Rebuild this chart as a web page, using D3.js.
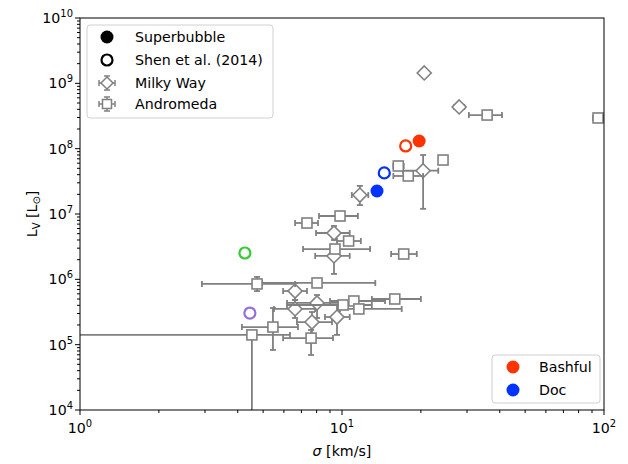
<!DOCTYPE html>
<html><head><meta charset="utf-8">
<script src="https://cdn.jsdelivr.net/npm/d3@7"></script>
<style>body{margin:0;background:#fff}svg{display:block;font-family:"DejaVu Sans",sans-serif}</style>
</head><body><svg id="c" width="628" height="464"></svg>
<script>
// ---- data (σ in km/s, L_V in L_sun) ----
const mwSigma = [20.6, 28.0, 20.4, 11.7, 9.32, 9.32, 6.62, 6.62, 8.03, 7.68, 9.57];
const mwL     = [1.44e9, 4.35e8, 4.6e7, 1.95e7, 5.12e6, 2.28e6, 6.62e5, 3.52e5, 4.35e5, 2.22e5, 2.65e5];
const mwSigLo = [20.6, 26.8, 17.1, 10.9, 7.96, 7.9, 5.96, 5.5, 6.17, 6.73, 8.61];
const mwSigHi = [20.6, 29.3, 23.3, 12.6, 10.7, 10.7, 7.35, 7.89, 10.3, 9.16, 10.7];
const mwLLo   = [1.44e9, 3.9e8, 1.2e7, 1.37e7, 4.0e6, 1.21e6, 4.83e5, 2.56e5, 2.56e5, 1.41e5, 1.41e5];
const mwLHi   = [1.44e9, 4.9e8, 8.0e7, 2.69e7, 6.55e6, 3.13e6, 8.8e5, 4.83e5, 5.75e5, 3.16e5, 4.05e5];

const anSigma = [94.9, 35.8, 24.3, 16.4, 17.9, 9.83, 7.35, 10.6, 9.4, 17.2, 4.74, 8.03, 10.1, 11.1, 11.6, 15.9, 5.45, 4.53, 7.62];
const anL     = [2.95e8, 3.27e8, 6.7e7, 5.43e7, 3.82e7, 9.32e6, 7.28e6, 3.86e6, 2.91e6, 2.44e6, 8.5e5, 8.8e5, 4.05e5, 4.66e5, 3.52e5, 5.0e5, 1.86e5, 1.41e5, 1.26e5];
const anSigLo = [90.8, 30.5, 23.5, 15.7, 15.7, 8.17, 6.62, 9.57, 7.1, 15.4, 2.92, 4.95, 6.17, 9.0, 9.83, 13.0, 4.15, 0.5, 5.96];
const anSigHi = [99.1, 40.8, 25.2, 17.2, 20.4, 11.5, 8.1, 11.8, 12.8, 19.3, 6.62, 13.4, 13.0, 14.6, 16.9, 20.0, 6.79, 6.33, 9.24];
const anLLo   = [2.65e8, 3.1e8, 5.8e7, 4.7e7, 3.4e7, 8.0e6, 6.5e6, 3.45e6, 2.6e6, 2.2e6, 6.6e5, 7.9e5, 3.6e5, 4.15e5, 3.15e5, 4.5e5, 8.3e4, 1e3, 6.95e4];
const anLHi   = [3.3e8, 3.45e8, 7.7e7, 6.3e7, 4.25e7, 1.08e7, 8.1e6, 4.3e6, 3.25e6, 2.72e6, 1.09e6, 9.8e5, 4.5e5, 5.25e5, 3.9e5, 5.6e5, 3.64e5, 1.41e5, 1.68e5];

const sbNames  = ["Bashful", "Doc"];
const sbColors = ["#ff3300", "#0033ff"];
const sbSigma  = [19.7, 13.6];
const sbL      = [1.31e8, 2.25e7];

const shenColors = ["#ff3300", "#0033ff", "#33cc33", "#9370db"];
const shenSigma  = [17.5, 14.5, 4.26, 4.45];
const shenL      = [1.1e8, 4.25e7, 2.53e6, 3.05e5];

const xTicks = [1, 10, 100];
const yTicks = [1e4, 1e5, 1e6, 1e7, 1e8, 1e9, 1e10];

// ---- drawing ----
const svg = d3.select("#c");
const L = 80, R = 604, T = 18, B = 410;
const x = d3.scaleLog().domain([1, 100]).range([L, R]);
const y = d3.scaleLog().domain([1e4, 1e10]).range([B, T]);
const gray = "#808080";

svg.append("defs").append("clipPath").attr("id", "clip")
  .append("rect").attr("x", L).attr("y", T).attr("width", R - L).attr("height", B - T);
const plot = svg.append("g").attr("clip-path", "url(#clip)");

function minor(domain) {
  const out = [];
  for (let e = Math.log10(domain[0]); e < Math.log10(domain[1]); e++)
    for (let m = 2; m <= 9; m++) out.push(m * Math.pow(10, e));
  return out;
}

// axes ticks
const xMinor = minor([1, 100]), yMinor = minor([1e4, 1e10]);
const ax = svg.append("g").attr("stroke", "#000").attr("stroke-width", 1);
ax.selectAll(".xM").data(xTicks).join("line").attr("x1", d => x(d)).attr("x2", d => x(d)).attr("y1", B).attr("y2", B + 5);
ax.selectAll(".xm").data(xMinor).join("line").attr("x1", d => x(d)).attr("x2", d => x(d)).attr("y1", B).attr("y2", B + 3);
ax.selectAll(".yM").data(yTicks).join("line").attr("y1", d => y(d)).attr("y2", d => y(d)).attr("x1", L).attr("x2", L - 5);
ax.selectAll(".ym").data(yMinor).join("line").attr("y1", d => y(d)).attr("y2", d => y(d)).attr("x1", L).attr("x2", L - 3);

// tick labels
const fs = 14.2;
const xl = svg.append("g").selectAll("text").data(xTicks).join("text")
  .attr("x", d => x(d)).attr("y", B + 23).attr("text-anchor", "middle").attr("font-size", fs).attr("fill", "#000");
xl.append("tspan").text("10");
xl.append("tspan").attr("dy", -6).attr("font-size", fs * 0.7).text(d => Math.round(Math.log10(d)));
const yl = svg.append("g").selectAll("text").data(yTicks).join("text")
  .attr("x", L - 7).attr("y", d => y(d) + 5).attr("text-anchor", "end").attr("font-size", fs).attr("fill", "#000");
yl.append("tspan").text("10");
yl.append("tspan").attr("dy", -6).attr("font-size", fs * 0.7).text(d => Math.round(Math.log10(d)));

// axis labels
const xlab = svg.append("text").attr("x", (L + R) / 2).attr("y", 456).attr("text-anchor", "middle").attr("font-size", fs);
xlab.append("tspan").attr("font-style", "italic").text("σ");
xlab.append("tspan").text(" [km/s]");
const ylab = svg.append("text").attr("transform", `translate(37,${(T + B) / 2}) rotate(-90)`).attr("text-anchor", "middle").attr("font-size", fs);
ylab.append("tspan").text("L");
ylab.append("tspan").attr("dy", 3).attr("font-size", fs * 0.7).text("V");
ylab.append("tspan").attr("dy", -3).text(" [L");
ylab.append("tspan").attr("dy", 3).attr("font-size", fs * 0.7).text("⊙");
ylab.append("tspan").attr("dy", -3).text("]");

// error bars helper
function errorbars(g, sig, Lv, sLo, sHi, lLo, lHi) {
  const idx = d3.range(sig.length);
  const cap = 3;
  const eg = g.append("g").attr("stroke", gray).attr("stroke-width", 1.8).attr("fill", "none");
  idx.forEach(i => {
    if (sLo[i] !== sHi[i]) {
      eg.append("line").attr("x1", x(sLo[i])).attr("x2", x(sHi[i])).attr("y1", y(Lv[i])).attr("y2", y(Lv[i]));
      [sLo[i], sHi[i]].forEach(v => eg.append("line").attr("x1", x(v)).attr("x2", x(v)).attr("y1", y(Lv[i]) - cap).attr("y2", y(Lv[i]) + cap));
    }
    if (lLo[i] !== lHi[i]) {
      eg.append("line").attr("y1", y(lLo[i])).attr("y2", y(lHi[i])).attr("x1", x(sig[i])).attr("x2", x(sig[i]));
      [lLo[i], lHi[i]].forEach(v => eg.append("line").attr("y1", y(v)).attr("y2", y(v)).attr("x1", x(sig[i]) - cap).attr("x2", x(sig[i]) + cap));
    }
  });
}

// Milky Way
const mwG = plot.append("g");
errorbars(mwG, mwSigma, mwL, mwSigLo, mwSigHi, mwLLo, mwLHi);
mwG.selectAll("path").data(d3.range(mwSigma.length)).join("path")
  .attr("d", "M0,-7L7,0L0,7L-7,0Z")
  .attr("transform", i => `translate(${x(mwSigma[i])},${y(mwL[i])})`)
  .attr("fill", "#fff").attr("stroke", gray).attr("stroke-width", 1.6);

// Andromeda
const anG = plot.append("g");
errorbars(anG, anSigma, anL, anSigLo, anSigHi, anLLo, anLHi);
anG.selectAll("rect").data(d3.range(anSigma.length)).join("rect")
  .attr("x", i => x(anSigma[i]) - 5).attr("y", i => y(anL[i]) - 5).attr("width", 10).attr("height", 10)
  .attr("fill", "#fff").attr("stroke", gray).attr("stroke-width", 1.6);

// Shen et al. (open circles)
plot.append("g").selectAll("circle").data(d3.range(shenSigma.length)).join("circle")
  .attr("cx", i => x(shenSigma[i])).attr("cy", i => y(shenL[i])).attr("r", 5.5)
  .attr("fill", "#fff").attr("stroke", i => shenColors[i]).attr("stroke-width", 2.2);

// Superbubble (filled)
plot.append("g").selectAll("circle").data(d3.range(sbSigma.length)).join("circle")
  .attr("cx", i => x(sbSigma[i])).attr("cy", i => y(sbL[i])).attr("r", 6.5)
  .attr("fill", i => sbColors[i]);

// frame
svg.append("rect").attr("x", L).attr("y", T).attr("width", R - L).attr("height", B - T)
  .attr("fill", "none").attr("stroke", "#000").attr("stroke-width", 1);

// legend 1
const lg = svg.append("g");
lg.append("rect").attr("x", 87).attr("y", 25).attr("width", 186).attr("height", 93).attr("rx", 3)
  .attr("fill", "#fff").attr("fill-opacity", 0.8).attr("stroke", "#d0d0d0");
const legLabels = ["Superbubble", "Shen et al. (2014)", "Milky Way", "Andromeda"];
const legY = [37, 60, 83, 104];
lg.selectAll("text").data(legLabels).join("text").attr("x", 135).attr("y", (d, i) => legY[i] + 5)
  .attr("font-size", fs).text(d => d);
lg.append("circle").attr("cx", 107).attr("cy", legY[0]).attr("r", 6.5).attr("fill", "#000");
lg.append("circle").attr("cx", 107).attr("cy", legY[1]).attr("r", 5.5).attr("fill", "#fff").attr("stroke", "#000").attr("stroke-width", 2.2);
function legErr(cy) {
  const g = lg.append("g").attr("stroke", gray).attr("stroke-width", 1.5);
  g.append("line").attr("x1", 99).attr("x2", 115).attr("y1", cy).attr("y2", cy);
  g.append("line").attr("x1", 107).attr("x2", 107).attr("y1", cy - 7).attr("y2", cy + 7);
  [99, 115].forEach(v => g.append("line").attr("x1", v).attr("x2", v).attr("y1", cy - 3).attr("y2", cy + 3));
  [cy - 7, cy + 7].forEach(v => g.append("line").attr("x1", 104).attr("x2", 110).attr("y1", v).attr("y2", v));
}
legErr(legY[2]);
lg.append("path").attr("d", "M0,-6L6,0L0,6L-6,0Z").attr("transform", `translate(107,${legY[2]})`)
  .attr("fill", "#fff").attr("stroke", gray).attr("stroke-width", 1.5);
legErr(legY[3]);
lg.append("rect").attr("x", 102.5).attr("y", legY[3] - 4.5).attr("width", 9).attr("height", 9)
  .attr("fill", "#fff").attr("stroke", gray).attr("stroke-width", 1.5);

// legend 2
const lg2 = svg.append("g");
lg2.append("rect").attr("x", 492).attr("y", 355).attr("width", 108).attr("height", 48).attr("rx", 3)
  .attr("fill", "#fff").attr("fill-opacity", 0.8).attr("stroke", "#d0d0d0");
const leg2Y = [367, 390];
lg2.selectAll("circle").data(sbNames).join("circle").attr("cx", 513).attr("cy", (d, i) => leg2Y[i]).attr("r", 6.5)
  .attr("fill", (d, i) => sbColors[i]);
lg2.selectAll("text").data(sbNames).join("text").attr("x", 539).attr("y", (d, i) => leg2Y[i] + 5)
  .attr("font-size", fs).text(d => d);
</script></body></html>
